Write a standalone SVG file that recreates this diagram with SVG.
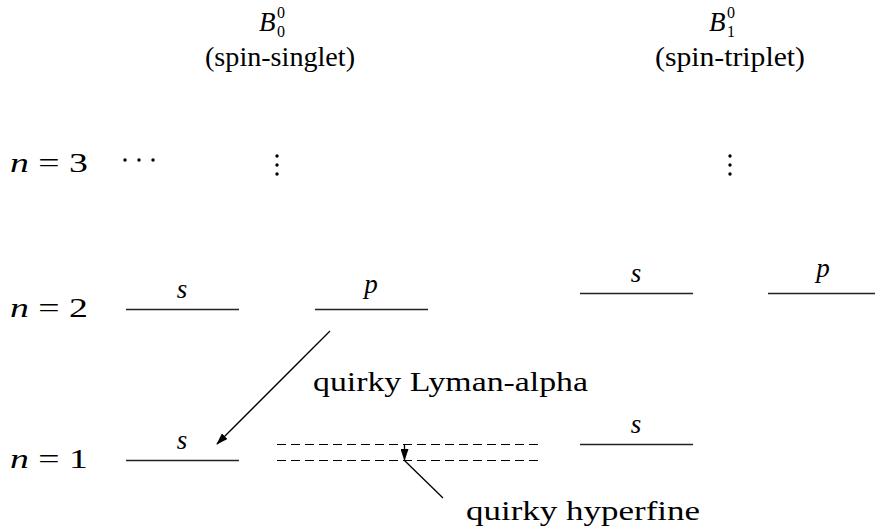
<svg xmlns="http://www.w3.org/2000/svg" width="875" height="531" viewBox="0 0 875 531" font-family="'Liberation Serif', 'Times New Roman', Tinos, 'DejaVu Serif', 'Noto Serif', serif">
<style>
text{font-family:'Liberation Serif','Times New Roman',Tinos,'DejaVu Serif','Noto Serif',serif;font-size:27px;fill:#000}
.i{font-style:italic}
.sub{font-size:16px}
.lv{stroke:#222;stroke-width:1.3}
.ds{stroke:#000;stroke-width:1.2;stroke-dasharray:9,5}
.c{stroke:#000;stroke-width:1.3;fill:none}
</style>
<defs>
<marker id="ah" markerWidth="12" markerHeight="8" refX="11" refY="4" orient="auto" markerUnits="userSpaceOnUse">
<path d="M0,0 L12,4 L0,8 z" fill="#000"/>
</marker>
</defs>
<rect width="875" height="531" fill="#fff"/>
<g id="headers">
<text x="259" y="31" class="i">B</text><text x="277" y="18" class="sub">0</text><text x="277" y="37" class="sub">0</text>
<text x="280" y="66" text-anchor="middle" textLength="150" lengthAdjust="spacingAndGlyphs">(spin-singlet)</text>
<text x="709" y="31" class="i">B</text><text x="727" y="18" class="sub">0</text><text x="727" y="37" class="sub">1</text>
<text x="730" y="66" text-anchor="middle" textLength="150" lengthAdjust="spacingAndGlyphs">(spin-triplet)</text>
</g>
<g id="row-labels">
<text x="10" y="172" textLength="78" lengthAdjust="spacingAndGlyphs"><tspan class="i">n</tspan> = 3</text>
<text x="10" y="317" textLength="78" lengthAdjust="spacingAndGlyphs"><tspan class="i">n</tspan> = 2</text>
<text x="10" y="468" textLength="78" lengthAdjust="spacingAndGlyphs"><tspan class="i">n</tspan> = 1</text>
</g>
<g id="n3-dots">
<circle cx="125" cy="160" r="1.7"/><circle cx="139" cy="160" r="1.7"/><circle cx="153" cy="160" r="1.7"/>
<circle cx="277" cy="156" r="1.7"/><circle cx="277" cy="165" r="1.7"/><circle cx="277" cy="174" r="1.7"/>
<circle cx="730" cy="156" r="1.7"/><circle cx="730" cy="165" r="1.7"/><circle cx="730" cy="174" r="1.7"/>
</g>
<g id="n2-s0">
<line class="lv" x1="126" y1="309.5" x2="239" y2="309.5"/>
<text x="182" y="298" class="i" text-anchor="middle">s</text>
</g>
<g id="n2-p0">
<line class="lv" x1="315" y1="309.5" x2="428" y2="309.5"/>
<text x="371" y="293" class="i" text-anchor="middle">p</text>
</g>
<g id="n2-s1">
<line class="lv" x1="580" y1="293.5" x2="693" y2="293.5"/>
<text x="636" y="282" class="i" text-anchor="middle">s</text>
</g>
<g id="n2-p1">
<line class="lv" x1="768" y1="293.5" x2="875" y2="293.5"/>
<text x="823" y="277" class="i" text-anchor="middle">p</text>
</g>
<g id="n1-s0">
<line class="lv" x1="126" y1="460.5" x2="239" y2="460.5"/>
<text x="182" y="449" class="i" text-anchor="middle">s</text>
</g>
<g id="n1-dashed">
<line class="ds" x1="277" y1="444.5" x2="543" y2="444.5"/>
<line class="ds" x1="277" y1="460.5" x2="543" y2="460.5"/>
</g>
<g id="n1-s1">
<line class="lv" x1="580" y1="444.5" x2="693" y2="444.5"/>
<text x="636" y="433" class="i" text-anchor="middle">s</text>
</g>
<g id="connectors">
<line class="c" x1="330" y1="331" x2="217" y2="444" marker-end="url(#ah)"/>
<line class="c" x1="404.5" y1="444.5" x2="404.5" y2="460" marker-end="url(#ah)"/>
<line class="c" x1="404.5" y1="460.5" x2="443" y2="498"/>
</g>
<g id="labels">
<text x="313" y="391" textLength="275" lengthAdjust="spacingAndGlyphs">quirky Lyman-alpha</text>
<text x="466" y="520" textLength="234" lengthAdjust="spacingAndGlyphs">quirky hyperfine</text>
</g>
</svg>
